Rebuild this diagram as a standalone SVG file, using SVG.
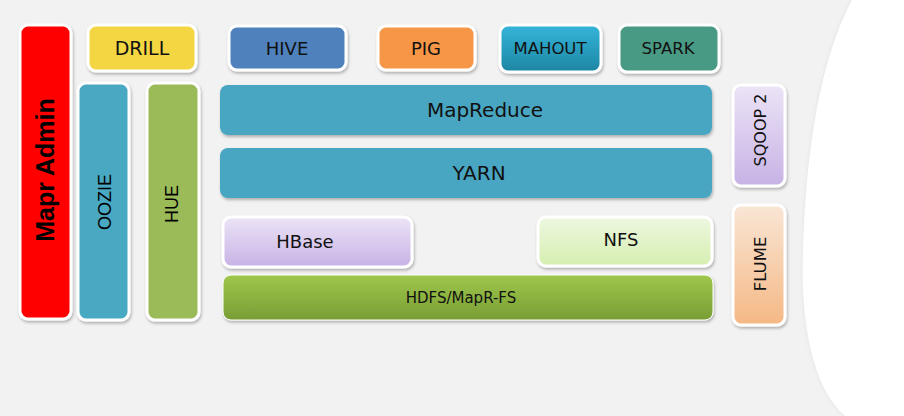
<svg xmlns="http://www.w3.org/2000/svg" width="904" height="416" viewBox="0 0 904 416">
<style>
.bd{stroke:#ffffff;stroke-width:3;filter:url(#sh)}
.nb{filter:url(#sh)}
.t{font-family:"DejaVu Sans",Verdana,sans-serif;fill:#111;text-anchor:middle}
.a{font-family:"Liberation Sans",Arial,sans-serif;fill:#000;text-anchor:middle}
</style>
<defs>
<filter id="sh" x="-20%" y="-20%" width="140%" height="140%">
<feDropShadow dx="1" dy="2" stdDeviation="1.5" flood-color="#000" flood-opacity="0.28"/>
</filter>
<filter id="ws" x="-20%" y="-5%" width="140%" height="110%">
<feGaussianBlur stdDeviation="2"/>
</filter>
<linearGradient id="gMah" x1="0" y1="0" x2="0" y2="1"><stop offset="0" stop-color="#35b5da"/><stop offset="1" stop-color="#1d86a3"/></linearGradient>
<linearGradient id="gLav" x1="0" y1="0" x2="0" y2="1"><stop offset="0" stop-color="#ece4f6"/><stop offset="1" stop-color="#c7b2e5"/></linearGradient>
<linearGradient id="gNfs" x1="0" y1="0" x2="0" y2="1"><stop offset="0" stop-color="#eef8e0"/><stop offset="1" stop-color="#d5eeb0"/></linearGradient>
<linearGradient id="gHdfs" x1="0" y1="0" x2="0" y2="1"><stop offset="0" stop-color="#9fc74b"/><stop offset="1" stop-color="#799d36"/></linearGradient>
<linearGradient id="gFlu" x1="0" y1="0" x2="0" y2="1"><stop offset="0" stop-color="#f9e6d5"/><stop offset="1" stop-color="#f5b885"/></linearGradient>
</defs>
<rect width="904" height="416" fill="#f2f2f2"/>
<path d="M852 0 C820 60 806 150 803 250 C800 330 815 390 845 416 L904 416 L904 0 Z" fill="#e2e2e2" filter="url(#ws)"/>
<path d="M852 0 C820 60 806 150 803 250 C800 330 815 390 845 416 L904 416 L904 0 Z" fill="#ffffff"/>

<g id="mapr-admin">
<rect class="bd" x="20" y="25" width="51" height="294" rx="8" fill="#ff0000"/>
<text class="a" font-size="25" font-weight="bold" transform="translate(54,170) rotate(-90)">Mapr Admin</text>
</g>
<g id="drill">
<rect class="bd" x="88" y="25" width="108" height="46" rx="8" fill="#f3d642"/>
<text class="t" x="142" y="55" font-size="19">DRILL</text>
</g>
<g id="oozie">
<rect class="bd" x="78" y="83" width="51" height="237" rx="8" fill="#4aa8c2"/>
<text class="a" font-size="18" transform="translate(111,202) rotate(-90)">OOZIE</text>
</g>
<g id="hue">
<rect class="bd" x="147" y="83" width="52" height="237" rx="8" fill="#9bbb59"/>
<text class="a" font-size="18" transform="translate(178,204) rotate(-90)">HUE</text>
</g>
<g id="hive">
<rect class="bd" x="229" y="26" width="117" height="44" rx="8" fill="#4f81bd"/>
<text class="t" x="287" y="55" font-size="18">HIVE</text>
</g>
<g id="pig">
<rect class="bd" x="378" y="26" width="97" height="44" rx="8" fill="#f79646"/>
<text class="t" x="426" y="55" font-size="18">PIG</text>
</g>
<g id="mahout">
<rect class="bd" x="500" y="25" width="101" height="47" rx="8" fill="url(#gMah)"/>
<text class="t" x="550" y="54" font-size="16.5">MAHOUT</text>
</g>
<g id="spark">
<rect class="bd" x="619" y="25" width="100" height="47" rx="8" fill="#4a9a84"/>
<text class="t" x="668" y="54" font-size="16.5">SPARK</text>
</g>
<g id="mapreduce">
<rect class="nb" x="220" y="85" width="492" height="50" rx="8" fill="#4aa6c2"/>
<text class="t" x="485" y="117" font-size="20">MapReduce</text>
</g>
<g id="yarn">
<rect class="nb" x="220" y="148" width="492" height="50" rx="8" fill="#4aa6c2"/>
<text class="t" x="479" y="180" font-size="20">YARN</text>
</g>
<g id="sqoop2">
<rect class="bd" x="733" y="85" width="52" height="101" rx="8" fill="url(#gLav)"/>
<text class="t" font-size="16" transform="translate(766,130) rotate(-90)">SQOOP 2</text>
</g>
<g id="hbase">
<rect class="bd" x="223" y="217" width="189" height="50" rx="8" fill="url(#gLav)"/>
<text class="t" x="305" y="248" font-size="18">HBase</text>
</g>
<g id="nfs">
<rect class="bd" x="538" y="217" width="174" height="49" rx="8" fill="url(#gNfs)"/>
<text class="t" x="621" y="246" font-size="18">NFS</text>
</g>
<g id="hdfs">
<rect class="nb" x="223" y="275" width="490" height="45" rx="8" fill="url(#gHdfs)" stroke="#ffffff" stroke-width="1"/>
<text class="t" x="461" y="303" font-size="15">HDFS/MapR-FS</text>
</g>
<g id="flume">
<rect class="bd" x="733" y="205" width="52" height="120" rx="8" fill="url(#gFlu)"/>
<text class="t" font-size="16.5" transform="translate(766,264) rotate(-90)">FLUME</text>
</g>
</svg>
